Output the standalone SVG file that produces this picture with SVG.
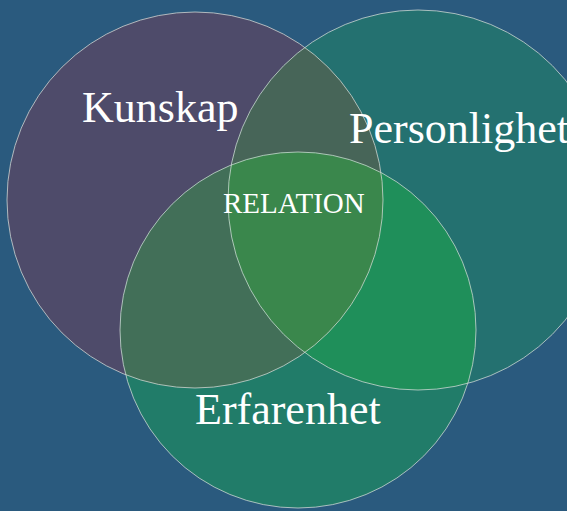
<svg xmlns="http://www.w3.org/2000/svg" width="567" height="511" viewBox="0 0 567 511">
<style>
.lbl{font-family:"Liberation Serif","Times New Roman",serif;fill:#ffffff}
.big{font-size:44px}
.small{font-size:29px}
.edge{fill:none;stroke:#d4dcd8;stroke-opacity:0.75;stroke-width:1}
</style>
<defs>
<clipPath id="cK"><circle cx="195" cy="200" r="188"/></clipPath>
<clipPath id="cP"><circle cx="418" cy="200" r="190"/></clipPath>
<clipPath id="cE"><circle cx="298" cy="330" r="178"/></clipPath>
</defs>
<rect width="567" height="511" fill="#2a5a7e"/>
<g id="kunskap">
<circle cx="195" cy="200" r="188" fill="#4e4b6a"/>
</g>
<g id="personlighet">
<circle cx="418" cy="200" r="190" fill="#247170"/>
</g>
<g id="erfarenhet">
<circle cx="298" cy="330" r="178" fill="#217c69"/>
</g>
<g id="overlaps">
<circle cx="418" cy="200" r="190" fill="#476558" clip-path="url(#cK)"/>
<circle cx="298" cy="330" r="178" fill="#426f58" clip-path="url(#cK)"/>
<circle cx="298" cy="330" r="178" fill="#1f8f5a" clip-path="url(#cP)"/>
<g clip-path="url(#cK)"><circle cx="298" cy="330" r="178" fill="#3a874c" clip-path="url(#cP)"/></g>
</g>
<g id="outlines">
<circle class="edge" cx="195" cy="200" r="188"/>
<circle class="edge" cx="418" cy="200" r="190"/>
<circle class="edge" cx="298" cy="330" r="178"/>
</g>
<g id="labels">
<text class="lbl big" x="82" y="122">Kunskap</text>
<text class="lbl big" x="349" y="143">Personlighet</text>
<text class="lbl big" x="195" y="424">Erfarenhet</text>
<text class="lbl small" x="223" y="213">RELATION</text>
</g>
</svg>
